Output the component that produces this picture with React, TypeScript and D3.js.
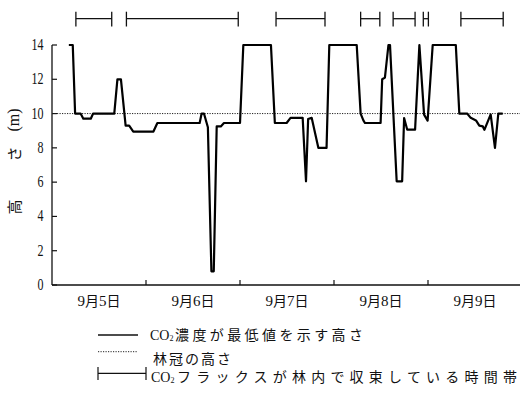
import React from "react";
import * as d3 from "d3";

// hours since 9/5 00:00
const lineHours = [4.3, 5.3, 5.9, 7.3, 8.0, 9.9, 10.5, 15.9, 16.7, 17.6, 18.8, 19.7, 20.75, 25.9, 26.9, 37.7, 38.2, 38.8, 39.8, 40.7, 41.3, 42.05, 43.1, 43.9, 48.0, 48.85, 55.9, 56.9, 59.9, 60.9, 64.0, 64.85, 65.4, 66.3, 68.0, 70.1, 70.8, 77.8, 78.8, 79.5, 79.9, 83.9, 84.3, 85.0, 85.9, 86.3, 88.0, 89.4, 89.9, 90.7, 92.7, 93.8, 95.0, 95.9, 97.2, 103.1, 104.0, 106.0, 106.9, 108.25, 109.1, 110.0, 110.4, 112.0, 113.1, 113.95, 115.07];
const lineValues = [14, 14, 10, 10, 9.7, 9.7, 10, 10, 12, 12, 9.3, 9.3, 8.95, 8.95, 9.45, 9.45, 10, 10, 9.2, 0.8, 0.8, 9.25, 9.25, 9.45, 9.45, 14, 14, 9.45, 9.45, 9.75, 9.75, 6.05, 9.68, 9.75, 8.0, 8.0, 14, 14, 10, 9.6, 9.45, 9.45, 12.0, 12.1, 14, 14, 6.05, 6.05, 9.74, 9.06, 9.06, 14, 9.94, 9.59, 14, 14, 10, 10, 9.75, 9.6, 9.3, 9.25, 9.05, 9.95, 8.0, 10, 10];

const canopyHeight = 10;

const intervalStarts = [6.1, 19, 57.2, 78.8, 87.1, 94.8, 104.4];
const intervalEnds = [15.25, 47.55, 69.7, 83.7, 92.7, 96.1, 115.2];

const yTicks = [0, 2, 4, 6, 8, 10, 12, 14];
const dayTicks = [24, 48, 72, 96];
const dayLabelHours = [12, 36, 60, 84, 108];
const dayNumbers = ["5", "6", "7", "8", "9"];

const legendLabels = ["濃度が最低値を示す高さ", "林冠の高さ", "フラックスが林内で収束している時間帯"];

const SERIF = "'Liberation Serif', 'Times New Roman', 'DejaVu Serif', serif";
const CJK = "'Noto Sans CJK JP', sans-serif";

export default function App() {
  const x = d3.scaleLinear().domain([0, 120]).range([52, 522]);
  const y = d3.scaleLinear().domain([0, 14]).range([285, 45]);
  const pts = lineHours.map((h, i) => [h, lineValues[i]] as [number, number]);
  const line = d3
    .line<[number, number]>()
    .x((d) => x(d[0]))
    .y((d) => y(d[1]));

  const barY = 18.7;
  const ink = "#111";

  const co2 = (tx: number, ty: number) => (
    <text x={tx} y={ty} fontFamily={SERIF} fontSize={14} fill={ink}>
      CO
      <tspan fontSize={8} dy={1}>2</tspan>
    </text>
  );

  return (
    <svg width={520} height={395} style={{ position: "absolute", left: 0, top: 0, background: "#fff" }}>
      <rect width={520} height={395} fill="#fff" />
      {intervalStarts.map((s, i) => (
        <g key={i} stroke={ink} strokeWidth={1.3}>
          <line x1={x(s)} x2={x(intervalEnds[i])} y1={barY} y2={barY} />
          <line x1={x(s)} x2={x(s)} y1={11.7} y2={26.5} />
          <line x1={x(intervalEnds[i])} x2={x(intervalEnds[i])} y1={11.7} y2={26.5} />
        </g>
      ))}

      <line x1={x(0)} x2={x(0)} y1={y(0)} y2={y(14)} stroke={ink} strokeWidth={1.3} />
      <line x1={x(0)} x2={520} y1={y(0)} y2={y(0)} stroke={ink} strokeWidth={1.3} />
      {yTicks.map((t) => (
        <g key={t}>
          <line x1={x(0)} x2={x(0) + 5} y1={y(t)} y2={y(t)} stroke={ink} strokeWidth={1.2} />
          <text
            transform={`translate(43.5,${y(t) + 5}) scale(0.75,1)`}
            textAnchor="end"
            fontFamily={SERIF}
            fontSize={16}
            fill={ink}
          >
            {t}
          </text>
        </g>
      ))}
      {dayTicks.map((t) => (
        <line key={t} x1={x(t)} x2={x(t)} y1={y(0)} y2={y(0) - 5} stroke={ink} strokeWidth={1.2} />
      ))}
      {dayLabelHours.map((h, i) => (
        <text key={i} x={x(h)} y={306} textAnchor="middle" fontFamily={SERIF} fontSize={15} fill={ink}>
          9<tspan fontFamily={CJK} fontSize={14}>月</tspan>
          {dayNumbers[i]}
          <tspan fontFamily={CJK} fontSize={14}>日</tspan>
        </text>
      ))}

      <g opacity={0.999}>
        <text transform={`translate(13,207) rotate(-90)`} textAnchor="middle" dominantBaseline="central" fontFamily={CJK} fontSize={15} fill={ink}>高</text>
        <text transform={`translate(13,154) rotate(-90)`} textAnchor="middle" dominantBaseline="central" fontFamily={CJK} fontSize={15} fill={ink}>さ</text>
        <text transform={`translate(13,120) rotate(-90)`} textAnchor="middle" dominantBaseline="central" fontFamily={SERIF} fontSize={16} fill={ink}>(m)</text>
      </g>

      <line x1={x(0)} x2={520} y1={y(canopyHeight)} y2={y(canopyHeight)} stroke="#222" strokeWidth={1} strokeDasharray="1.2 1.3" />

      <path d={line(pts) || ""} fill="none" stroke="#000" strokeWidth={2.2} strokeLinejoin="round" />

      {/* legend */}
      <line x1={98} x2={138} y1={335} y2={335} stroke={ink} strokeWidth={1.6} />
      {co2(150, 340)}
      <text x={175} y={340} fontFamily={CJK} fontSize={14} fill={ink} textLength={188} lengthAdjust="spacing">
        {legendLabels[0]}
      </text>
      <line x1={98} x2={138} y1={351.7} y2={351.7} stroke="#222" strokeWidth={1} strokeDasharray="1.2 1.3" />
      <text x={153} y={364} fontFamily={CJK} fontSize={14} fill={ink} textLength={78} lengthAdjust="spacing">
        {legendLabels[1]}
      </text>
      <g stroke={ink} strokeWidth={1.2}>
        <line x1={98} x2={146} y1={373.3} y2={373.3} />
        <line x1={98} x2={98} y1={367} y2={380} />
        <line x1={146} x2={146} y1={367} y2={380} />
      </g>
      {co2(151, 382)}
      <text x={177} y={382} fontFamily={CJK} fontSize={14} fill={ink} textLength={340} lengthAdjust="spacing">
        {legendLabels[2]}
      </text>
    </svg>
  );
}
